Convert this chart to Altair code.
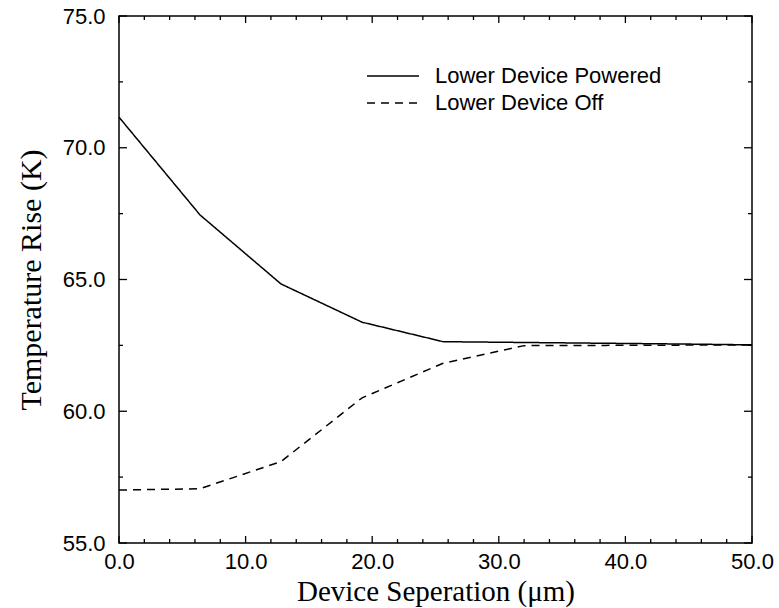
import altair as alt
import pandas as pd

# Temperature rise of the upper device versus lateral separation
separation = [0.0, 6.4, 12.8, 19.2, 25.6, 32.0, 38.4, 44.8, 50.0]
powered = [71.16, 67.45, 64.83, 63.38, 62.64, 62.61, 62.58, 62.55, 62.52]
lower_off = [57.01, 57.06, 58.09, 60.51, 61.82, 62.49, 62.50, 62.51, 62.51]
series_names = ["Lower Device Powered", "Lower Device Off"]

# Tick positions
x_major = [0, 10, 20, 30, 40, 50]
x_minor = [2, 4, 6, 8, 12, 14, 16, 18, 22, 24, 26, 28, 32, 34, 36, 38, 42, 44, 46, 48]
y_major = [55, 60, 65, 70, 75]
y_minor = [57.5, 62.5, 67.5, 72.5]

W, H = 633, 527
FONT_SANS = "Liberation Sans"
FONT_SERIF = "Liberation Serif"

lines = pd.DataFrame({
    "sep": separation * 2,
    "temp": powered + lower_off,
    "series": [series_names[0]] * len(separation) + [series_names[1]] * len(separation),
})

x_scale = alt.Scale(domain=[0, 50], nice=False, zero=False)
y_scale = alt.Scale(domain=[55, 75], nice=False, zero=False)

x_axis = alt.Axis(
    values=x_major, format=".1f", ticks=False, domain=False, grid=False,
    labelFont=FONT_SANS, labelFontSize=22, labelColor="black", labelPadding=8,
    labelFlush=False, labelOverlap=False, labelBound=False,
    title="Device Seperation (μm)", titleFont=FONT_SERIF, titleFontSize=29,
    titleFontWeight="normal", titleColor="black", titlePadding=5,
)
y_axis = alt.Axis(
    values=y_major, format=".1f", ticks=False, domain=False, grid=False,
    labelFont=FONT_SANS, labelFontSize=22, labelColor="black", labelPadding=14,
    labelFlush=False, labelOverlap=False, labelBound=False,
    title="Temperature Rise (K)", titleFont=FONT_SERIF, titleFontSize=30,
    titleFontWeight="normal", titleColor="black", titlePadding=16,
)

# Legend key: a horizontal stroke drawn as a custom symbol path
key_path = "M-4,0H4"

curves = alt.Chart(lines).mark_line(color="black", strokeWidth=1.5).encode(
    x=alt.X("sep:Q", scale=x_scale, axis=x_axis),
    y=alt.Y("temp:Q", scale=y_scale, axis=y_axis),
    strokeDash=alt.StrokeDash(
        "series:N",
        scale=alt.Scale(domain=series_names, range=[[1, 0], [8, 6]]),
        sort=series_names,
        legend=alt.Legend(
            title=None, orient="none", legendX=263, legendY=49,
            symbolType=key_path, symbolSize=169, symbolStrokeColor="black",
            symbolStrokeWidth=1.5, labelFont=FONT_SANS, labelFontSize=22,
            labelColor="black", labelLimit=400, rowPadding=5, labelOffset=31,
        ),
    ),
)


def tick_layer(values, field_scale, channel, side, length):
    df = pd.DataFrame({"t": values})
    base = alt.Chart(df).mark_rule(color="black", strokeWidth=1.3)
    if channel == "x":
        enc = dict(x=alt.X("t:Q", scale=field_scale, axis=x_axis))
        if side == "bottom":
            enc.update(y=alt.value(H), y2=alt.value(H - length))
        else:
            enc.update(y=alt.value(0), y2=alt.value(length))
    else:
        enc = dict(y=alt.Y("t:Q", scale=field_scale, axis=y_axis))
        if side == "left":
            enc.update(x=alt.value(0), x2=alt.value(length))
        else:
            enc.update(x=alt.value(W), x2=alt.value(W - length))
    return base.encode(**enc)


ticks = [
    tick_layer(x_major, x_scale, "x", "bottom", 7),
    tick_layer(x_minor, x_scale, "x", "bottom", 4),
    tick_layer(x_major, x_scale, "x", "top", 7),
    tick_layer(x_minor, x_scale, "x", "top", 4),
    tick_layer(y_major, y_scale, "y", "left", 8),
    tick_layer(y_minor, y_scale, "y", "left", 4),
    tick_layer(y_major, y_scale, "y", "right", 8),
    tick_layer(y_minor, y_scale, "y", "right", 4),
]

chart = alt.layer(curves, *ticks).properties(
    width=W, height=H,
    autosize=alt.AutoSizeParams(type="none"),
    padding={"left": 119, "top": 16, "right": 27, "bottom": 65},
    background="white",
).configure_view(stroke="black", strokeWidth=1.5)

chart.save("out.html", embed_options={"renderer": "svg", "actions": False})
